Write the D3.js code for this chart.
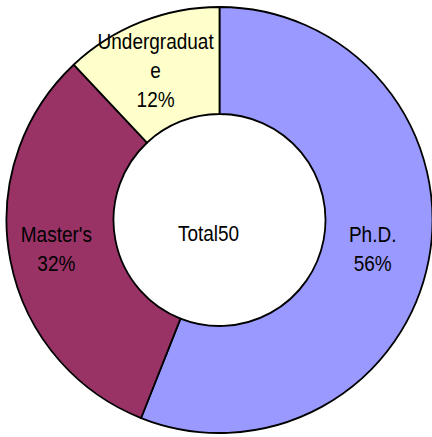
<!DOCTYPE html>
<html>
<head>
<meta charset="utf-8">
<script src="https://cdn.jsdelivr.net/npm/d3@7"></script>
<style>
	body { margin: 0; background: #fff; }
	text { font-family: "Liberation Sans", Arial, sans-serif; font-size: 19px; fill: #000; }
</style>
</head>
<body>
<script>
const width = 432;
const height = 437;

// chart data
const categories = ["Ph.D.", "Master's", "Undergraduate"];
const counts = [28, 16, 6];
const labelLines = [["Ph.D."], ["Master's"], ["Undergraduat", "e"]];
const colors = ["#9999FF", "#993366", "#FFFFCC"];
const totalLabel = "Total";

const total = d3.sum(counts);

const cx = 219.5;
const cy = 220;
const outerR = 213;
const innerR = 106;
const stretch = 1.12; // glyphs in the original are a bit taller than wide

const svg = d3.select("body")
	.append("svg")
	.attr("width", width)
	.attr("height", height);

const g = svg.append("g")
	.attr("transform", "translate(" + cx + "," + cy + ")");

// slices go clockwise from 12 o'clock, in data order
const pie = d3.pie()
	.sort(null)
	.value((d) => d);

const arc = d3.arc()
	.innerRadius(innerR)
	.outerRadius(outerR);

const labelArc = d3.arc()
	.innerRadius(160)
	.outerRadius(160);

const arcs = pie(counts);

g.selectAll("path")
	.data(arcs)
	.enter()
	.append("path")
	.attr("d", arc)
	.style("fill", (d, i) => colors[i])
	.style("stroke", "#000")
	.style("stroke-width", 1.8)
	.style("stroke-linejoin", "round");

// slice labels: name (maybe wrapped) and percentage
const lineH = 29;
const nudgeX = [-4, -6, -5];
arcs.forEach((d, i) => {
	const c = labelArc.centroid(d);
	const lines = labelLines[i].concat([d3.format(".0%")(counts[i] / total)]);
	const n = lines.length;
	const t = g.append("text")
		.attr("text-anchor", "middle")
		.attr("transform", "translate(" + (c[0] + nudgeX[i]) + "," + c[1] + ") scale(1," + stretch + ")");
	lines.forEach((s, k) => {
		t.append("tspan")
			.attr("x", 0)
			.attr("y", ((k - (n - 1) / 2) * lineH + 7) / stretch)
			.text(s);
	});
});

// center text
g.append("text")
	.attr("text-anchor", "middle")
	.attr("transform", "translate(-11,21) scale(1," + stretch + ")")
	.text(totalLabel + total);
</script>
</body>
</html>
